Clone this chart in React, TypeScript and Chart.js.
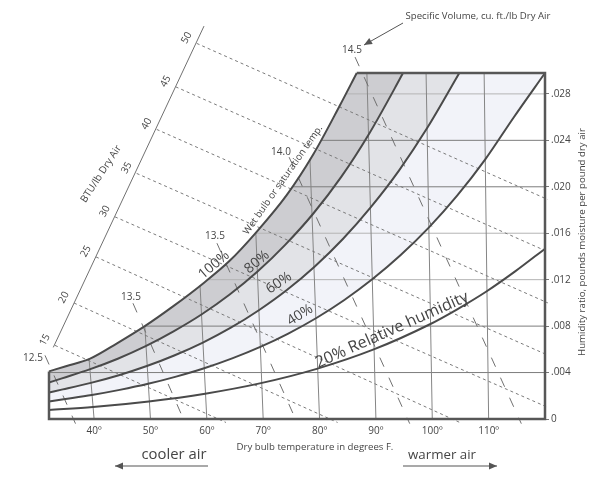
import React, { useEffect, useRef } from 'react';
import { Chart, registerables } from 'chart.js';

Chart.register(...registerables);

const FONT = "'Open Sans', 'DejaVu Sans', sans-serif";

// ---- axis ranges (dry bulb °F, humidity ratio lb/lb) ----
const xMin = 32;
const xMax = 120;
const wMin = 0;
const wMax = 0.0298;

const xTicks = [40, 50, 60, 70, 80, 90, 100, 110];
const yTicks = [0, 0.004, 0.008, 0.012, 0.016, 0.02, 0.024, 0.028];
const yTickLabels = ['0', '.004', '.008', '.012', '.016', '.020', '.024', '.028'];

// ---- relative humidity curves (apparent dry bulb, humidity ratio) ----
const rh100X = [32, 35, 39.3, 44, 49, 54, 59.4, 64, 68.8, 74.2, 78.9, 83.6, 86.6];
const rh100W = [0.0041, 0.00455, 0.0052, 0.0065, 0.008, 0.0097, 0.0117, 0.0136, 0.0161, 0.0193, 0.0228, 0.027, 0.0298];

const rh80X = [32, 34.3, 39.2, 44.2, 49.15, 54.1, 59.05, 64.0, 69.0, 73.9, 78.9, 83.85, 88.8, 93.8, 94.8];
const rh80W = [0.00314, 0.0035, 0.00427, 0.00519, 0.00627, 0.00755, 0.009, 0.0107, 0.0127, 0.015, 0.0177, 0.02085, 0.02457, 0.02889, 0.0298];

const rh60X = [32, 34.45, 39.43, 44.39, 49.36, 54.32, 59.3, 64.26, 69.23, 74.2, 79.16, 84.14, 89.1, 94.12, 99.12, 104.8];
const rh60W = [0.00229, 0.00255, 0.00311, 0.00377, 0.00456, 0.00549, 0.00658, 0.00786, 0.00937, 0.01111, 0.01314, 0.0155, 0.01825, 0.02142, 0.02508, 0.0298];

const rh40X = [32, 34.6, 39.6, 44.55, 49.58, 54.55, 59.53, 64.5, 69.49, 74.45, 79.44, 84.4, 89.4, 94.4, 99.42, 104.41, 109.4, 114.41, 120];
const rh40W = [0.00151, 0.0017, 0.00207, 0.00251, 0.00303, 0.00365, 0.00437, 0.00522, 0.00621, 0.00736, 0.0087, 0.01025, 0.01205, 0.01412, 0.0165, 0.01923, 0.02236, 0.02595, 0.0298];

const rh20X = [32, 39.8, 49.7, 59.7, 69.6, 79.5, 89.5, 99.5, 104.5, 109.6, 114.7, 120];
const rh20W = [0.00078, 0.00103, 0.00151, 0.00218, 0.00309, 0.00432, 0.00597, 0.00814, 0.00947, 0.01098, 0.01271, 0.01467];

// ---- horizontal humidity-ratio lines (start at saturation) ----
const gridW = [0.004, 0.008, 0.012, 0.016, 0.02, 0.024, 0.028];
const gridStartX = [32, 49.0, 60.1, 68.6, 75.1, 80.4, 84.7];

// ---- dry bulb lines ----
const dryBulbT = [40, 50, 60, 70, 80, 90, 100, 110];
const dryBulbTopX = [39.1, 49.0, 58.8, 68.7, 78.3, 88.4, 98.9, 109.2];
const dryBulbTopW = [0.0052, 0.008, 0.0115, 0.016, 0.0224, 0.0298, 0.0298, 0.0298];

// ---- enthalpy lines, BTU/lb dry air ----
const enthalpyValues = [15, 20, 25, 30, 35, 40, 45, 50];
const enthalpyStartX = [33.06, 36.44, 40.34, 43.71, 47.56, 51.11, 54.48, 58.21];
const enthalpyStartW = [0.00634, 0.00999, 0.01396, 0.01741, 0.02115, 0.02494, 0.02861, 0.03235];
const enthalpyEndX = [63.4, 83.2, 104.9, 120.5, 120.5, 120.5, 120.5, 120.5];
const enthalpyEndW = [-0.0003, -0.0003, -0.0003, 0.001, 0.0055, 0.01, 0.0144, 0.0189];
const enthalpyAxisX = [32.76, 59.5];
const enthalpyAxisW = [0.00617, 0.03384];

// ---- specific volume lines, cu.ft./lb dry air ----
const volumeLabels = ['12.5', '13.5', '13.5', '14.0', '14.5'];
const volumeStartX = [31.29, 46.9, 61.8, 74.6, 86.3];
const volumeStartW = [0.00548, 0.00997, 0.01514, 0.02255, 0.03117];
const volumeEndX = [36.7, 56.2, 76.1, 96.0, 115.8];
const volumeEndW = [-0.0004, -0.0004, -0.0004, -0.0004, -0.0004];

const pts = (xs: number[], ws: number[]) => xs.map((x, i) => ({ x, y: ws[i] }));
const toTop = (xs: number[], ws: number[]) => {
  const p = pts(xs, ws);
  if (p[p.length - 1].x < xMax) p.push({ x: xMax, y: wMax });
  return p;
};

type Txt = { t: string; x: number; y: number; r?: number; s?: number; w?: number };

const texts: Txt[] = [
  { t: 'Specific Volume, cu. ft./lb Dry Air', x: 478, y: 16, w: 145 },
  { t: 'Dry bulb temperature in degrees F.', x: 315, y: 447, w: 157 },
  { t: 'Humidity ratio, pounds moisture per pound dry air', x: 582, y: 242, r: -90, w: 228 },
  { t: 'BTU/lb Dry Air', x: 101, y: 174, r: -57, w: 66 },
  { t: 'Wet bulb or saturation temp.', x: 283, y: 180, r: -55, w: 131 },
  { t: '20% Relative humidity', x: 392, y: 330, r: -24, w: 166 },
  { t: '100%', x: 214, y: 265, r: -40, s: 14 },
  { t: '80%', x: 257, y: 262, r: -40, s: 14 },
  { t: '60%', x: 279, y: 283, r: -34, s: 14 },
  { t: '40%', x: 300, y: 315, r: -32, s: 14 },
  { t: 'cooler air', x: 174, y: 455, w: 65 },
  { t: 'warmer air', x: 442, y: 455, w: 68 },
];
const volumeLabelPos = [
  [33, 358],
  [131, 297],
  [215, 236],
  [281, 152],
  [352, 50],
];

export default function App() {
  const ref = useRef<HTMLCanvasElement>(null);

  useEffect(() => {
    const canvas = ref.current;
    if (!canvas) return;
    Chart.defaults.font.family = FONT;

    const base = { pointRadius: 0, pointHoverRadius: 0, fill: false, tension: 0, clip: false as any };
    const datasets: any[] = [];

    // fills between RH curves (consecutive so '+1' works)
    const bandColors = ['#cdcdd1', '#e2e3e7', '#f2f3f9'];
    const fillCurves = [
      [rh100X, rh100W],
      [rh80X, rh80W],
      [rh60X, rh60W],
      [rh40X, rh40W],
    ];
    fillCurves.forEach(([xs, ws], i) => {
      datasets.push({
        ...base,
        data: toTop(xs, ws),
        borderWidth: 0,
        borderColor: 'rgba(0,0,0,0)',
        backgroundColor: i < 3 ? bandColors[i] : 'rgba(0,0,0,0)',
        fill: i < 3 ? '+1' : false,
        order: 30,
      });
    });

    // horizontal humidity ratio lines
    gridW.forEach((w, i) => {
      const light = w === 0.012 || w === 0.016 || w === 0.028;
      datasets.push({
        ...base,
        data: [{ x: gridStartX[i], y: w }, { x: xMax, y: w }],
        borderWidth: 1,
        borderColor: light ? '#b4b4b4' : '#7c7c7c',
        order: 20,
      });
    });

    // dry bulb lines
    dryBulbT.forEach((t, i) => {
      datasets.push({
        ...base,
        data: [{ x: t, y: wMin }, { x: dryBulbTopX[i], y: dryBulbTopW[i] }],
        borderWidth: 1,
        borderColor: '#858585',
        order: 19,
      });
    });

    // enthalpy lines
    enthalpyValues.forEach((_, i) => {
      datasets.push({
        ...base,
        data: [
          { x: enthalpyStartX[i], y: enthalpyStartW[i] },
          { x: enthalpyEndX[i], y: enthalpyEndW[i] },
        ],
        borderWidth: 1,
        borderColor: '#7a7a7a',
        borderDash: [3, 3],
        order: 18,
      });
    });
    datasets.push({
      ...base,
      data: pts(enthalpyAxisX, enthalpyAxisW),
      borderWidth: 1,
      borderColor: '#707070',
      order: 18,
    });

    // specific volume lines
    volumeLabels.forEach((_, i) => {
      datasets.push({
        ...base,
        data: [
          { x: volumeStartX[i], y: volumeStartW[i] },
          { x: volumeEndX[i], y: volumeEndW[i] },
        ],
        borderWidth: 1,
        borderColor: '#707070',
        borderDash: [10, 12],
        order: 17,
      });
    });

    // RH curves
    [
      [rh100X, rh100W],
      [rh80X, rh80W],
      [rh60X, rh60W],
      [rh40X, rh40W],
      [rh20X, rh20W],
    ].forEach(([xs, ws]) => {
      datasets.push({
        ...base,
        data: pts(xs, ws),
        borderWidth: 2,
        borderColor: '#4a4a4a',
        cubicInterpolationMode: 'monotone',
        order: 5,
      });
    });

    // frame
    datasets.push({
      ...base,
      data: [
        { x: xMin, y: rh100W[0] },
        { x: xMin, y: wMin },
        { x: xMax, y: wMin },
        { x: xMax, y: wMax },
        { x: rh100X[rh100X.length - 1], y: wMax },
      ],
      borderWidth: 2.5,
      borderColor: '#575757',
      borderJoinStyle: 'miter',
      order: 4,
    });

    const fitFont = (ctx: CanvasRenderingContext2D, tx: Txt) => {
      if (tx.w) {
        ctx.font = `10px ${FONT}`;
        const m = ctx.measureText(tx.t).width;
        return (10 * tx.w) / m;
      }
      return tx.s || 10;
    };

    const arrow = (ctx: CanvasRenderingContext2D, x1: number, y1: number, x2: number, y2: number) => {
      ctx.beginPath();
      ctx.moveTo(x1, y1);
      ctx.lineTo(x2, y2);
      ctx.stroke();
      const a = Math.atan2(y2 - y1, x2 - x1);
      const L = 8, H = 3.5;
      ctx.beginPath();
      ctx.moveTo(x2, y2);
      ctx.lineTo(x2 - L * Math.cos(a) + H * Math.sin(a), y2 - L * Math.sin(a) - H * Math.cos(a));
      ctx.lineTo(x2 - L * Math.cos(a) - H * Math.sin(a), y2 - L * Math.sin(a) + H * Math.cos(a));
      ctx.closePath();
      ctx.fill();
    };

    const annotations = {
      id: 'psychroText',
      afterDatasetsDraw(chart: any) {
        const ctx: CanvasRenderingContext2D = chart.ctx;
        const sx = chart.scales.x;
        const sy = chart.scales.y;
        ctx.save();
        ctx.fillStyle = '#454545';
        ctx.textAlign = 'center';
        ctx.textBaseline = 'middle';
        const draw = (tx: Txt) => {
          const size = fitFont(ctx, tx);
          ctx.font = `${size}px ${FONT}`;
          ctx.save();
          ctx.translate(tx.x, tx.y);
          ctx.rotate(((tx.r || 0) * Math.PI) / 180);
          ctx.fillText(tx.t, 0, 0);
          ctx.restore();
        };
        texts.forEach(draw);
        // enthalpy scale labels anchored at their line starts
        enthalpyValues.forEach((h, i) => {
          const px = sx.getPixelForValue(enthalpyStartX[i]);
          const py = sy.getPixelForValue(enthalpyStartW[i]);
          draw({ t: String(h), x: px - 10, y: py - 5.5, r: -62, s: 10 });
        });
        volumeLabels.forEach((v, i) => {
          draw({ t: v, x: volumeLabelPos[i][0], y: volumeLabelPos[i][1], s: 10 });
        });
        // arrows
        ctx.strokeStyle = '#555';
        ctx.fillStyle = '#555';
        ctx.lineWidth = 1.2;
        arrow(ctx, 208, 466, 115, 466);
        arrow(ctx, 403, 466, 497, 466);
        ctx.lineWidth = 1;
        arrow(ctx, 403, 23, 364, 45);
        ctx.restore();
      },
    };

    const chart = new Chart(canvas, {
      type: 'line',
      data: { datasets },
      options: {
        animation: false,
        responsive: false,
        events: [],
        layout: { padding: { left: 49, top: 73, right: 25, bottom: 36 } },
        plugins: {
          legend: { display: false },
          tooltip: { enabled: false },
          title: { display: false },
        },
        scales: {
          x: {
            type: 'linear',
            min: xMin,
            max: xMax,
            position: 'bottom',
            afterBuildTicks: (s: any) => {
              s.ticks = xTicks.map((v) => ({ value: v }));
            },
            afterFit: (s: any) => {
              s.height = 22;
            },
            grid: { display: false, drawTicks: false },
            border: { display: false },
            ticks: {
              autoSkip: false,
              maxRotation: 0,
              padding: 6,
              color: '#454545',
              font: { family: FONT, size: 10 },
              callback: (v: any) => `${v}º`,
            },
          },
          y: {
            type: 'linear',
            position: 'right',
            min: wMin,
            max: wMax,
            afterBuildTicks: (s: any) => {
              s.ticks = yTicks.map((v) => ({ value: v }));
            },
            afterFit: (s: any) => {
              s.width = 30;
            },
            grid: { drawOnChartArea: false, drawTicks: true, tickLength: 4, color: '#777', lineWidth: 1 },
            border: { display: false },
            ticks: {
              autoSkip: false,
              padding: 2,
              color: '#454545',
              font: { family: FONT, size: 10 },
              callback: (_v: any, i: number) => yTickLabels[i],
            },
          },
        },
      },
      plugins: [annotations],
    } as any);

    return () => chart.destroy();
  }, []);

  return (
    <div style={{ position: 'fixed', left: 0, top: 0, width: 600, height: 477, background: '#fff' }}>
      <canvas ref={ref} width={600} height={477} style={{ display: 'block', width: 600, height: 477 }} />
    </div>
  );
}
